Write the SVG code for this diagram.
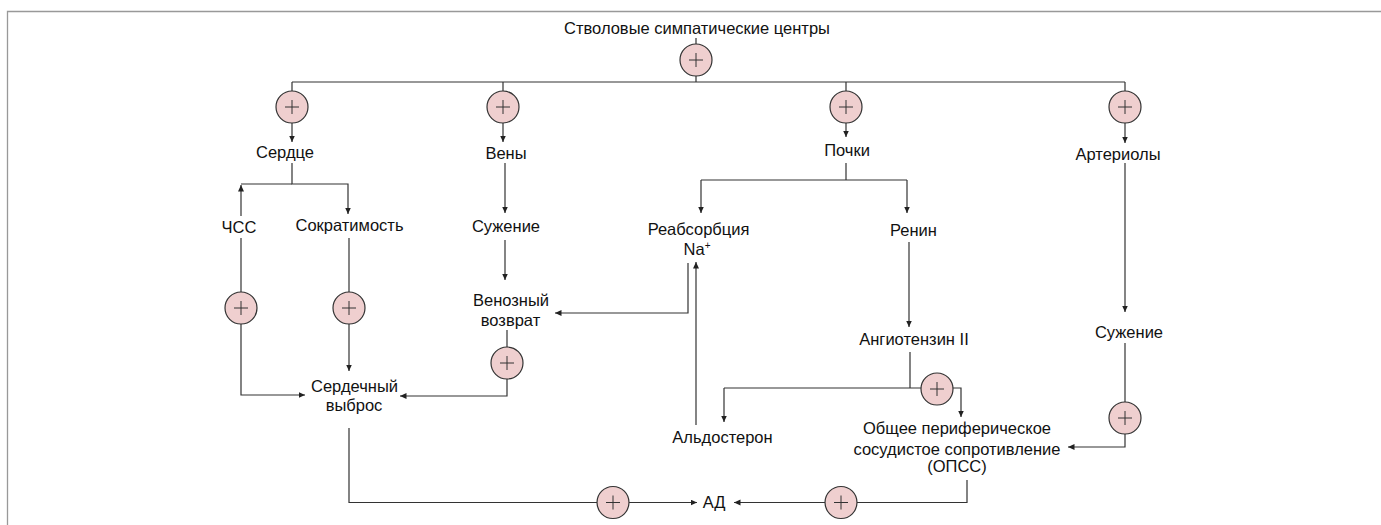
<svg xmlns="http://www.w3.org/2000/svg" width="1381" height="525" viewBox="0 0 1381 525">
<style>
text{font-family:"Liberation Sans",Arial,sans-serif;font-size:16.5px;fill:#111;text-anchor:middle}
.c{fill:#efcfcf;stroke:#333;stroke-width:1.2}
.p{stroke:#333;stroke-width:1;fill:none}
.l{stroke:#333;stroke-width:1.2;fill:none}
.a{marker-end:url(#ah)}
</style>
<defs>
<marker id="ah" markerUnits="userSpaceOnUse" markerWidth="8" markerHeight="8" refX="6.5" refY="3" orient="auto">
<path d="M0,0 L6.5,3 L0,6 z" fill="#222"/>
</marker>
<g id="plus"><circle class="c" r="16"/><path class="p" d="M-7,0 H7 M0,-7 V7"/></g>
</defs>
<rect width="1381" height="525" fill="#fff"/>
<path d="M7.5,525 V11.5 H1381" fill="none" stroke="#999" stroke-width="1.3"/>

<g id="connectors">
<path class="l" d="M696,38 V44 M696,76 V82 M292,82 H1125 M292,82 V91 M503,82 V91 M846,82 V91 M1125,82 V91"/>
<path class="l a" d="M292,123 V142"/>
<path class="l a" d="M503,123 V142"/>
<path class="l a" d="M846,123 V137"/>
<path class="l a" d="M1125,123 V143"/>
<path class="l a" d="M292,163 V184 H348 V214"/>
<path class="l" d="M292,184 H241"/>
<path class="l a" d="M241,216 V185"/>
<path class="l" d="M241,238 V292"/>
<path class="l a" d="M241,324 V395 H305"/>
<path class="l" d="M349,238 V292"/>
<path class="l a" d="M349,324 V371"/>
<path class="l a" d="M505,163 V213"/>
<path class="l a" d="M505,240 V280"/>
<path class="l" d="M507,330 V347"/>
<path class="l a" d="M507,379 V396 H400"/>
<path class="l a" d="M688,263 V313 H555"/>
<path class="l" d="M846,163 V180 M701,180 H907"/>
<path class="l a" d="M701,180 V213"/>
<path class="l a" d="M907,180 V213"/>
<path class="l a" d="M909,242 V327"/>
<path class="l" d="M910,352 V388 M724,388 H921"/>
<path class="l a" d="M724,388 V422"/>
<path class="l a" d="M953,388 H961 V417"/>
<path class="l a" d="M696,425 V262"/>
<path class="l a" d="M1125,163 V312"/>
<path class="l" d="M1125,343 V402"/>
<path class="l a" d="M1125,434 V447 H1068"/>
<path class="l" d="M967,480 V502.5 H857"/>
<path class="l a" d="M825,502.5 H734"/>
<path class="l" d="M349,428 V502.5 H597"/>
<path class="l a" d="M629,502.5 H697"/>
</g>

<g id="n-centers"><text x="697" y="34">Стволовые симпатические центры</text></g>
<g id="op-top"><use href="#plus" x="696" y="60"/></g>
<g id="op-heart"><use href="#plus" x="292" y="107"/></g>
<g id="op-veins"><use href="#plus" x="503" y="107"/></g>
<g id="op-kidneys"><use href="#plus" x="846" y="107"/></g>
<g id="op-arterioles"><use href="#plus" x="1125" y="107"/></g>
<g id="n-heart"><text x="285" y="158">Сердце</text></g>
<g id="n-veins"><text x="506" y="159">Вены</text></g>
<g id="n-kidneys"><text x="847" y="156">Почки</text></g>
<g id="n-arterioles"><text x="1118" y="160">Артериолы</text></g>
<g id="n-hr"><text x="239" y="233">ЧСС</text></g>
<g id="n-contract"><text x="349.5" y="231">Сократимость</text></g>
<g id="n-vconstr"><text x="506" y="232">Сужение</text></g>
<g id="n-reabs"><text x="698.5" y="235">Реабсорбция</text><text x="697" y="255">Na<tspan font-size="10" dy="-6">+</tspan></text></g>
<g id="n-renin"><text x="913.5" y="236">Ренин</text></g>
<g id="n-venret"><text x="511" y="306">Венозный</text><text x="510.5" y="326">возврат</text></g>
<g id="op-hr"><use href="#plus" x="241" y="308"/></g>
<g id="op-contract"><use href="#plus" x="349" y="308"/></g>
<g id="n-ang"><text x="914" y="345">Ангиотензин II</text></g>
<g id="n-aconstr"><text x="1129" y="338">Сужение</text></g>
<g id="op-venret"><use href="#plus" x="507" y="363"/></g>
<g id="op-ang"><use href="#plus" x="937" y="389"/></g>
<g id="n-co"><text x="354.5" y="392">Сердечный</text><text x="354" y="411">выброс</text></g>
<g id="op-aconstr"><use href="#plus" x="1125" y="418"/></g>
<g id="n-aldo"><text x="722.5" y="443">Альдостерон</text></g>
<g id="n-opss"><text x="957" y="434">Общее периферическое</text><text x="957" y="455">сосудистое сопротивление</text><text x="957" y="472">(ОПСС)</text></g>
<g id="op-co"><use href="#plus" x="613" y="502.5"/></g>
<g id="op-opss"><use href="#plus" x="841" y="502.5"/></g>
<g id="n-ad"><text x="714" y="508">АД</text></g>
</svg>
